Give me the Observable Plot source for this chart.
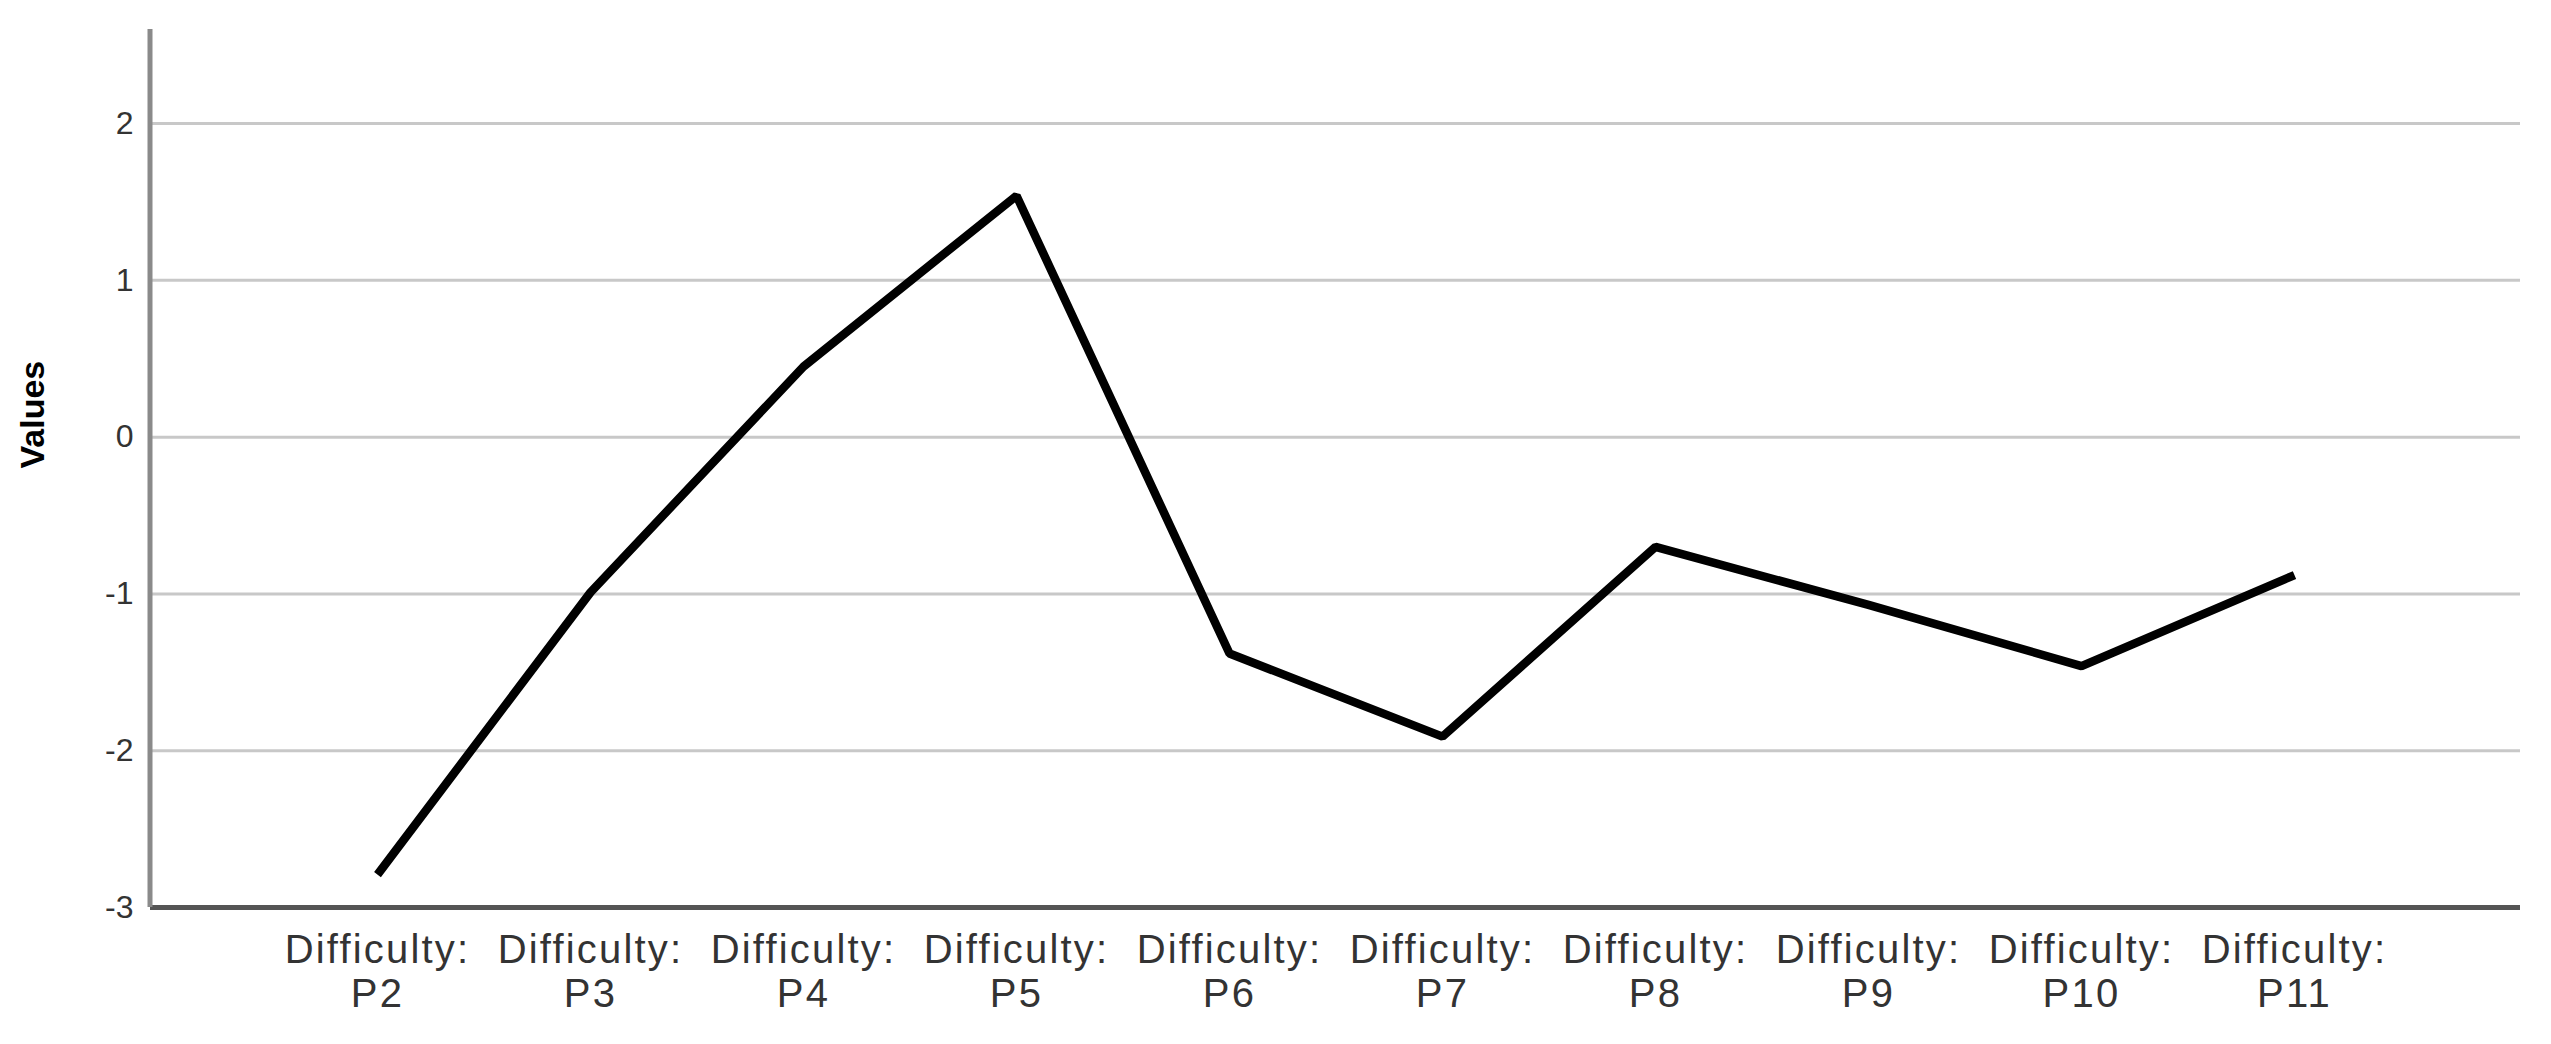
<!DOCTYPE html>
<html>
<head>
<meta charset="utf-8">
<script src="https://cdn.jsdelivr.net/npm/d3@7"></script>
<script src="https://cdn.jsdelivr.net/npm/@observablehq/plot@0.6"></script>
<style>
  html, body { margin: 0; padding: 0; background: #ffffff; }
  #chart svg { display: block; }
</style>
</head>
<body>
<div id="chart"></div>
<script>
const categories = ["P2", "P3", "P4", "P5", "P6", "P7", "P8", "P9", "P10", "P11"];
const values = [-2.79, -0.99, 0.45, 1.54, -1.38, -1.91, -0.70, -1.07, -1.46, -0.88];
const yTicks = [-3, -2, -1, 0, 1, 2];
const yDomain = [-3, 2.6];
const categoryPrefix = "Difficulty:";
const yLabel = "Values";

const data = categories.map((c, i) => ({category: c, value: values[i]}));

const yAxisLine = (index, scales, channels, dimensions) => {
  const {marginLeft, marginTop, height, marginBottom} = dimensions;
  const g = d3.create("svg:g");
  g.append("line")
    .attr("x1", marginLeft).attr("x2", marginLeft)
    .attr("y1", marginTop).attr("y2", height - marginBottom)
    .attr("stroke", "#8a8a8a").attr("stroke-width", 5);
  return g.node();
};

const chart = Plot.plot({
  width: 2551,
  height: 1044,
  marginLeft: 150,
  marginRight: 31,
  marginTop: 29,
  marginBottom: 137,
  style: {fontFamily: "'Liberation Sans', Arial, sans-serif", background: "#ffffff"},
  x: {type: "point", domain: categories, padding: 1.06, label: null},
  y: {domain: yDomain, label: null},
  marks: [
    Plot.ruleY(yTicks.filter(d => d > yDomain[0]), {stroke: "#c8c8c8", strokeWidth: 3}),
    Plot.ruleY([yDomain[0]], {stroke: "#555555", strokeWidth: 5}),
    yAxisLine,
    Plot.axisY({ticks: yTicks, tickSize: 0, tickPadding: 17, fontSize: 32, fill: "#333333",
      tickFormat: d => String(d), label: null}),
    Plot.axisX({tickSize: 0, tickPadding: 24, fontSize: 40, fill: "#333333", lineHeight: 1.1,
      tickFormat: d => categoryPrefix + "\n" + d, label: null}),
    Plot.text([yLabel], {text: d => d, frameAnchor: "left", dx: -117, rotate: -90,
      fontSize: 34, fontWeight: "bold", fill: "#000000"}),
    Plot.line(data, {x: "category", y: "value", stroke: "#000000", strokeWidth: 8.5,
      strokeLinejoin: "miter", strokeLinecap: "butt"})
  ]
});
d3.select(chart).selectAll("g[aria-label='x-axis tick label'] text").style("letter-spacing", "2.2px");
document.getElementById("chart").append(chart);
</script>
</body>
</html>
